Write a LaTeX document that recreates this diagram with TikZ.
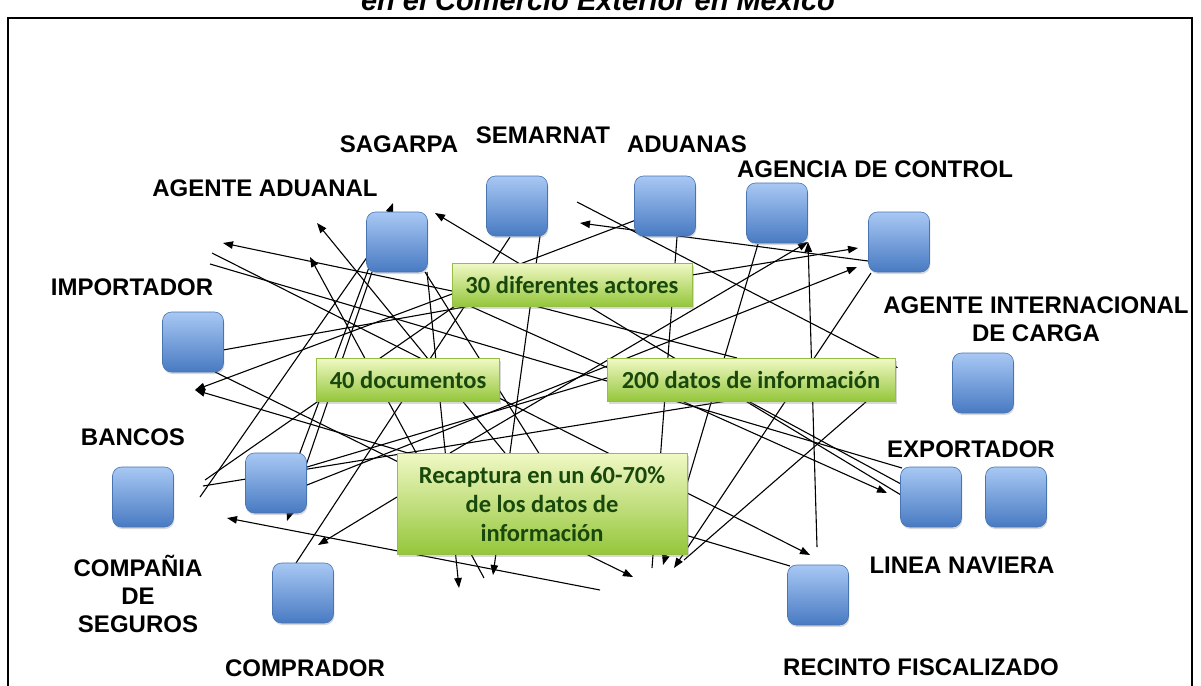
\documentclass[tikz,border=0pt]{standalone}
\usepackage{fontspec}
\setmainfont{Liberation Sans}
\newfontfamily\boxfont{Carlito}
\usetikzlibrary{arrows.meta,shadows}
\definecolor{sqtop}{RGB}{168,200,244}
\definecolor{sqbot}{RGB}{72,122,194}
\definecolor{sqedge}{RGB}{72,116,178}
\definecolor{gtop}{RGB}{240,248,196}
\definecolor{gbot}{RGB}{148,198,58}
\definecolor{gedge}{RGB}{150,190,70}
\definecolor{gtext}{RGB}{24,72,12}
\begin{document}
\begin{tikzpicture}[x=1pt,y=-1pt,
  lbl/.style={font=\fontsize{24}{28}\selectfont\bfseries, align=center, inner sep=0pt},
  sq/.style={rounded corners=9pt, minimum width=61pt, minimum height=60pt, inner sep=0pt,
    top color=sqtop, bottom color=sqbot, draw=sqedge, line width=0.6pt,
    drop shadow={shadow xshift=0.8pt, shadow yshift=-2pt, opacity=0.3}},
  gbox/.style={top color=gtop, bottom color=gbot, draw=gedge, line width=0.6pt, inner sep=0pt,
    text=gtext, font=\boxfont\bfseries\fontsize{24.5}{29}\selectfont, align=center,
    drop shadow={shadow xshift=1.5pt, shadow yshift=-2.5pt, opacity=0.3}},
  con/.style={line width=1.1pt, black},
  arr/.style={con, -{Triangle[length=10pt,width=7.5pt]}}
]
\useasboundingbox (0,0) rectangle (1201,685);
\clip (0,0) rectangle (1201,685);
\fill[white] (0,0) rectangle (1201,685);

% title and frame
\node[font=\fontsize{29}{32}\selectfont\bfseries\itshape, anchor=base, inner sep=0pt] (title) at (598,11) {en el Comercio Exterior en México};
\draw[line width=2.6pt] (8,720) -- (8,18) -- (1192,18) -- (1192,720);

% arrow tips
\coordinate (t1) at (223,243);
\coordinate (t2) at (310,257);
\coordinate (t3) at (317,223);
\coordinate (t4) at (393,203);
\coordinate (t5) at (435,213);
\coordinate (t6) at (580,223);
\coordinate (t7) at (858,248);
\coordinate (t8) at (857,267);
\coordinate (t9) at (808,242);
\coordinate (t10) at (898,368);
\coordinate (t11) at (887,493);
\coordinate (t12) at (810,555);
\coordinate (t13) at (663,565);
\coordinate (t14) at (674,568);
\coordinate (t15) at (633,577);
\coordinate (t16) at (195,390);
\coordinate (t17) at (227,518);
\coordinate (t18) at (287,521);
\coordinate (t19) at (318,545);
\coordinate (t20) at (493,575);
\coordinate (t21) at (459,588);
% free ends
\coordinate (f1) at (200,497);
\coordinate (f2) at (203,486);
\coordinate (f3) at (205,480);
\coordinate (f4) at (212,253);
\coordinate (f5) at (210,264);
\coordinate (f6) at (577,202);
\coordinate (f7) at (484,578);
\coordinate (f8) at (817,547);
\coordinate (f9) at (652,568);
\coordinate (f10) at (600,590);
% contact points on nodes
\coordinate (b30w1) at (452,291);
\coordinate (b30w2) at (452,298);
\coordinate (b30w3) at (452,294);
\coordinate (b30n) at (520,264);
\coordinate (b30e) at (692,275);
\coordinate (b30s1) at (590,307);
\coordinate (b30s2) at (535,306);
\coordinate (b30s3) at (455,306);
\coordinate (b30s4) at (470,306);
\coordinate (adw) at (636,220);
\coordinate (ads) at (677,237);
\coordinate (s5w) at (868,261);
\coordinate (s5s) at (871,273);
\coordinate (agcs) at (758,244);
\coordinate (semS1) at (540,236);
\coordinate (semS2) at (510,237);
\coordinate (aaS1) at (427,272);
\coordinate (aaS2) at (370,253);
\coordinate (aaS3) at (372,272);
\coordinate (aaS4) at (425,272);
\coordinate (s11n) at (298,458);
\coordinate (s11e1) at (307,485);
\coordinate (s11e2) at (307,467);
\coordinate (recN1) at (505,453);
\coordinate (recN2) at (450,453);
\coordinate (recN3) at (540,455);
\coordinate (recW) at (397,497);
\coordinate (exW1) at (902,468);
\coordinate (exW2) at (901,495);
\coordinate (exW3) at (901,484);
\coordinate (b200s1) at (867,401);
\coordinate (b200s2) at (727,401);
\coordinate (b200s3) at (748,401);
\coordinate (b200w) at (607,378);
\coordinate (b200n) at (737,358);
\coordinate (cmpN) at (296,563);
\coordinate (impE) at (223,350);
\coordinate (impS) at (215,372);
\coordinate (rfN) at (790,566);
\coordinate (t14b) at (684,560);

% connectors
\draw[arr] (b30w1) -- (t1);
\draw[arr] (f7) -- (t2);
\draw[arr] (recN1) -- (t3);
\draw[arr] (s11n) -- (t4);
\draw[arr] (b30n) -- (t5);
\draw[con] (b30n) -- (adw);
\draw[arr] (s5w) -- (t6);
\draw[arr] (b30e) -- (t7);
\draw[arr] (s11e1) -- (t8);
\draw[arr] (f8) -- (t9);
\draw[arr] (recN2) -- (t9);
\draw[arr] (f6) -- (t10);
\draw[arr] (f4) -- (t12);
\draw[con] (f5) -- (exW1);
\draw[arr] (b30w2) -- (t11);
\draw[con] (b30s1) -- (exW2);
\draw[con] (ads) -- (f9);
\draw[arr] (agcs) -- (t13);
\draw[arr] (s5s) -- (t14);
\draw[con] (b200s1) -- (t14b);
\draw[arr] (semS1) -- (t20);
\draw[arr] (aaS1) -- (t21);
\draw[con] (semS2) -- (cmpN);
\draw[con] (aaS2) -- (f1);
\draw[arr] (aaS3) -- (t18);
\draw[con] (f2) -- (b200s2);
\draw[con] (s11e2) -- (b200w);
\draw[con] (impE) -- (b30s4);
\draw[arr] (impS) -- (t15);
\draw[arr] (b30w3) -- (t16);
\draw[arr] (rfN) -- (t16);
\draw[arr] (f10) -- (t17);
\draw[arr] (recW) -- (t19);
\draw[con] (aaS4) -- (recN3);
\draw[con] (b30s2) -- (b200n);
\draw[con] (b200s3) -- (exW3);
\draw[con] (b30s3) -- (f3);

% actor squares
\node[sq] (aa)   at (397,242) {};
\node[sq] (sem)  at (517,206) {};
\node[sq] (adu)  at (665,206) {};
\node[sq] (agc)  at (777,213) {};
\node[sq] (s5)   at (899,242) {};
\node[sq] (aic)  at (983,383) {};
\node[sq] (exp1) at (931,497) {};
\node[sq] (exp2) at (1016,497) {};
\node[sq] (rf)   at (818,595) {};
\node[sq] (cmp)  at (303,593) {};
\node[sq] (ban)  at (143,497) {};
\node[sq] (s11)  at (276,483) {};
\node[sq] (imp)  at (193,342) {};

% green boxes
\node[gbox, minimum width=240pt, minimum height=43pt] (b30) at (572,285) {30 diferentes actores};
\node[gbox, minimum width=183pt, minimum height=43pt] (b40) at (408,380) {40 documentos};
\node[gbox, minimum width=288pt, minimum height=43pt] (b200) at (751,380) {200 datos de información};
\node[gbox, minimum width=290pt, minimum height=101pt] (brec) at (542,504) {Recaptura en un 60-70\%\\de los datos de\\información};

% labels
\node[lbl, anchor=base] (lsag) at (399,152) {SAGARPA};
\node[lbl, anchor=base] (lsem) at (543,143) {SEMARNAT};
\node[lbl, anchor=base] (ladu) at (687,152) {ADUANAS};
\node[lbl, anchor=base] (lagc) at (875,177) {AGENCIA DE CONTROL};
\node[lbl, anchor=base] (laa) at (265,196) {AGENTE ADUANAL};
\node[lbl, anchor=base] (limp) at (132,295) {IMPORTADOR};
\node[lbl, anchor=north] (laic) at (1036,297) {AGENTE INTERNACIONAL\\DE CARGA};
\node[lbl, anchor=base] (lban) at (133,445) {BANCOS};
\node[lbl, anchor=north] (lseg) at (138,555) {COMPAÑIA\\DE\\SEGUROS};
\node[lbl, anchor=base] (lcmp) at (305,676) {COMPRADOR};
\node[lbl, anchor=base] (lexp) at (971,457) {EXPORTADOR};
\node[lbl, anchor=base] (llin) at (962,573) {LINEA NAVIERA};
\node[lbl, anchor=base] (lrf) at (921,675) {RECINTO FISCALIZADO};
\end{tikzpicture}
\end{document}
